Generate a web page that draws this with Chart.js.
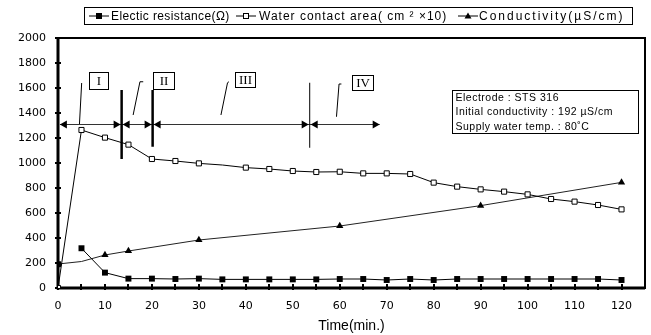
<!DOCTYPE html>
<html>
<head>
<meta charset="utf-8">
<script src="https://cdn.jsdelivr.net/npm/chart.js@4/dist/chart.umd.min.js"></script>
<style>
  html, body { margin: 0; padding: 0; background: #fff; }
  #wrap { position: relative; width: 651px; height: 335px; }
  #legend { position: absolute; left: 84px; top: 7px; width: 547px; height: 16px; border: 1px solid #000;
    font: 12px "Liberation Sans", Arial, sans-serif; color: #000; }
  #legend span, #legend svg { position: absolute; }
  #legend span { top: 1px; white-space: pre; }
  #legend svg { top: 3px; }
</style>
</head>
<body>
<div id="wrap">
  <canvas id="chart" width="651" height="335"></canvas>
  <div id="legend"></div>
</div>
<script>
// time axis (min.)
const times = [0, 5, 10, 15, 20, 25, 30, 35, 40, 45, 50, 55, 60,
  65, 70, 75, 80, 85, 90, 95, 100, 105, 110, 115, 120];
const resistance = [190, 318, 123, 75, 75, 72, 75, 69, 69, 69, 69, 69, 72,
  72, 64, 72, 64, 72, 72, 72, 72, 72, 72, 72, 64];
const waterArea = [0, 1264, 1203, 1147, 1032, 1016, 997, 984, 963, 952, 936, 928, 930,
  917, 917, 912, 843, 811, 789, 771, 749, 712, 691, 664, 629];
const condTimes = [0, 5, 10, 15, 30, 60, 90, 120];
const conductivity = [192, 212, 264, 296, 384, 496, 659, 845];

const xTickValues = [0, 10, 20, 30, 40, 50, 60, 70, 80, 90, 100, 110, 120];
const yTickValues = [0, 200, 400, 600, 800, 1000, 1200, 1400, 1600, 1800, 2000];

const seriesNames = ['Electic resistance(\u03A9)', 'Water contact area( cm \u00B2 \u00D710)', 'Conductivity(\u00B5S/cm)'];
const stageNames = ['I', 'II', 'III', 'IV'];
const infoLines = ['Electrode : STS 316', 'Initial conductivity : 192 \u00B5S/cm', 'Supply water temp. : 80\u02DAC'];

// markers hidden where the original has none
const waterRadius = waterArea.map((v, i) => i === 7 ? 0 : 3.6);
const condRadius = conductivity.map((v, i) => i === 1 ? 0 : 4.2);

function legendBuild(){
  const $legend = document.getElementById('legend');
  const items = [
    {sx: 4, tx: 26, ls: 0.4, mark: 'fsq'},
    {sx: 151, tx: 174, ls: 1, mark: 'osq'},
    {sx: 373, tx: 394, ls: 2, mark: 'tri'}
  ];
  items.forEach((it, i) => {
    let m = '';
    if (it.mark === 'fsq') m = '<rect x="7" y="2" width="6" height="6" fill="#000"/>';
    if (it.mark === 'osq') m = '<rect x="7.5" y="2.5" width="5" height="5" fill="#fff" stroke="#000"/>';
    if (it.mark === 'tri') m = '<path d="M10 1.5 L13.5 7.5 L6.5 7.5 Z" fill="#000"/>';
    $legend.insertAdjacentHTML('beforeend',
      `<svg width="20" height="10" style="left:${it.sx}px"><line x1="0" y1="5" x2="20" y2="5" stroke="#000"/>${m}</svg>`);
    $legend.insertAdjacentHTML('beforeend',
      `<span style="left:${it.tx}px;letter-spacing:${it.ls}px">${seriesNames[i]}</span>`);
  });
}

const annot = {
  id: 'annot',
  beforeDatasetsDraw(chart){
    const {ctx, chartArea: a, scales: {x, y}} = chart;
    ctx.save();
    ctx.strokeStyle = '#000';
    ctx.lineWidth = 2;
    ctx.strokeRect(a.left, a.top, a.right - a.left, a.bottom - a.top);
    ctx.lineWidth = 3;
    ctx.beginPath();
    ctx.moveTo(a.left, a.top); ctx.lineTo(a.left, a.bottom); ctx.lineTo(a.right, a.bottom);
    ctx.stroke();
    // tick marks
    ctx.lineWidth = 2;
    ctx.beginPath();
    for (let t = 0; t <= 120; t += 5){
      const px = Math.round(x.getPixelForValue(t));
      ctx.moveTo(px, a.bottom - 4); ctx.lineTo(px, a.bottom + 2);
    }
    yTickValues.forEach(v => {
      const py = Math.round(y.getPixelForValue(v));
      ctx.moveTo(a.left - 3, py); ctx.lineTo(a.left + 3, py);
    });
    ctx.stroke();
    ctx.restore();
  },
  afterDatasetsDraw(chart){
    const {ctx, scales: {x, y}} = chart;
    const X = v => x.getPixelForValue(v);
    const Y = v => y.getPixelForValue(v);
    ctx.save();
    ctx.strokeStyle = '#000';
    ctx.fillStyle = '#000';

    // stage arrow line
    const ay = Math.round(Y(1315)) + 0.5;
    ctx.lineWidth = 1;
    ctx.strokeStyle = '#333';
    ctx.beginPath(); ctx.moveTo(X(0.4), ay); ctx.lineTo(X(68.5), ay); ctx.stroke();
    function head(tip, dir){
      ctx.beginPath();
      ctx.moveTo(tip, ay);
      ctx.lineTo(tip - 7 * dir, ay - 4);
      ctx.lineTo(tip - 7 * dir, ay + 4);
      ctx.closePath();
      ctx.fill();
    }
    head(X(0.4), -1);
    [13.55, 20.15, 53.6].forEach(s => { head(X(s) - 1, 1); head(X(s) + 1, -1); });
    head(X(68.5), 1);

    // stage borders
    ctx.strokeStyle = '#000';
    [{t: 13.55, v0: 1032, v1: 1584, w: 2.5}, {t: 20.15, v0: 1130, v1: 1584, w: 2.5},
     {t: 53.6, v0: 1122, v1: 1642, w: 1}].forEach(s => {
      ctx.lineWidth = s.w;
      ctx.beginPath(); ctx.moveTo(X(s.t), Y(s.v0)); ctx.lineTo(X(s.t), Y(s.v1)); ctx.stroke();
    });

    // leaders
    ctx.lineWidth = 1;
    [[[5.04, 1640], [4.57, 1312]],
     [[18.15, 1650], [17.45, 1650], [16.0, 1384]],
     [[36.4, 1650], [36.1, 1642], [34.7, 1384]],
     [[60.35, 1632], [59.85, 1632], [59.3, 1370]]].forEach(pts => {
      ctx.beginPath();
      pts.forEach((p, i) => i ? ctx.lineTo(X(p[0]), Y(p[1])) : ctx.moveTo(X(p[0]), Y(p[1])));
      ctx.stroke();
    });

    // stage boxes
    ctx.font = '13px "Liberation Serif", serif';
    ctx.textAlign = 'center';
    ctx.textBaseline = 'middle';
    [[6.6, 10.6, 1592, 1728], [20.2, 24.7, 1592, 1728], [37.7, 41.9, 1608, 1728],
     [62.6, 67.0, 1584, 1704]].forEach((b, i) => {
      const x0 = Math.round(X(b[0])) + 0.5, x1 = Math.round(X(b[1])) + 0.5;
      const y0 = Math.round(Y(b[3])) + 0.5, y1 = Math.round(Y(b[2])) + 0.5;
      ctx.fillStyle = '#fff';
      ctx.fillRect(x0, y0, x1 - x0, y1 - y0);
      ctx.strokeRect(x0, y0, x1 - x0, y1 - y0);
      ctx.fillStyle = '#000';
      ctx.fillText(stageNames[i], (x0 + x1) / 2, (y0 + y1) / 2 + 1);
    });

    // info box
    const bx0 = Math.round(X(84)) + 0.5, bx1 = Math.round(X(123.6)) + 0.5;
    const by0 = Math.round(Y(1584)) + 0.5, by1 = Math.round(Y(1240)) + 0.5;
    ctx.strokeRect(bx0, by0, bx1 - bx0, by1 - by0);
    ctx.font = '10.5px "Liberation Sans", Arial, sans-serif';
    ctx.letterSpacing = '0.5px';
    ctx.textAlign = 'left';
    infoLines.forEach((s, i) => ctx.fillText(s, bx0 + 3, by0 + 7.5 + i * 14.5));
    ctx.restore();
  }
};

const tickFont = {family: 'DejaVu Sans', size: 11};
const ctx = document.getElementById('chart');
const chart = new Chart(ctx, {
  type: 'line',
  data: {
    datasets: [
      {
        label: seriesNames[0],
        data: times.map((t, i) => ({x: t, y: resistance[i]})),
        borderColor: '#000', borderWidth: 1,
        pointStyle: 'rect', pointRadius: 4.2,
        pointBackgroundColor: '#000', pointBorderColor: '#000', pointBorderWidth: 0,
        segment: {borderColor: c => c.p0DataIndex === 0 ? 'rgba(0,0,0,0)' : '#000'}
      },
      {
        label: seriesNames[1],
        data: times.map((t, i) => ({x: t, y: waterArea[i]})),
        borderColor: '#000', borderWidth: 1,
        pointStyle: 'rect', pointRadius: waterRadius,
        pointBackgroundColor: '#fff', pointBorderColor: '#000', pointBorderWidth: 1
      },
      {
        label: seriesNames[2],
        data: condTimes.map((t, i) => ({x: t, y: conductivity[i]})),
        borderColor: '#222', borderWidth: 1,
        pointStyle: 'triangle', pointRadius: condRadius,
        pointBackgroundColor: '#000', pointBorderColor: '#000', pointBorderWidth: 0
      }
    ]
  },
  options: {
    responsive: false,
    animation: false,
    devicePixelRatio: 1,
    layout: {padding: {top: 38, right: 6, left: 0, bottom: 0}},
    plugins: {legend: {display: false}, tooltip: {enabled: false}},
    scales: {
      x: {
        type: 'linear', min: 0, max: 125,
        afterBuildTicks: s => { s.ticks = xTickValues.map(v => ({value: v})); },
        afterFit: s => { s.height = 47; },
        grid: {display: false, drawTicks: false},
        border: {display: false},
        ticks: {font: tickFont, color: '#000', padding: 12, maxRotation: 0, autoSkip: false,
          callback: v => String(v)},
        title: {display: true, text: 'Time(min.)', color: '#000',
          font: {family: 'Liberation Sans', size: 14}, padding: {top: 0, bottom: 0}}
      },
      y: {
        min: 0, max: 2000,
        afterBuildTicks: s => { s.ticks = yTickValues.map(v => ({value: v})); },
        afterFit: s => { s.width = 58; },
        grid: {display: false, drawTicks: false},
        border: {display: false},
        ticks: {font: tickFont, color: '#000', padding: 12, callback: v => String(v)}
      }
    }
  },
  plugins: [annot]
});

legendBuild();
</script>
</body>
</html>
